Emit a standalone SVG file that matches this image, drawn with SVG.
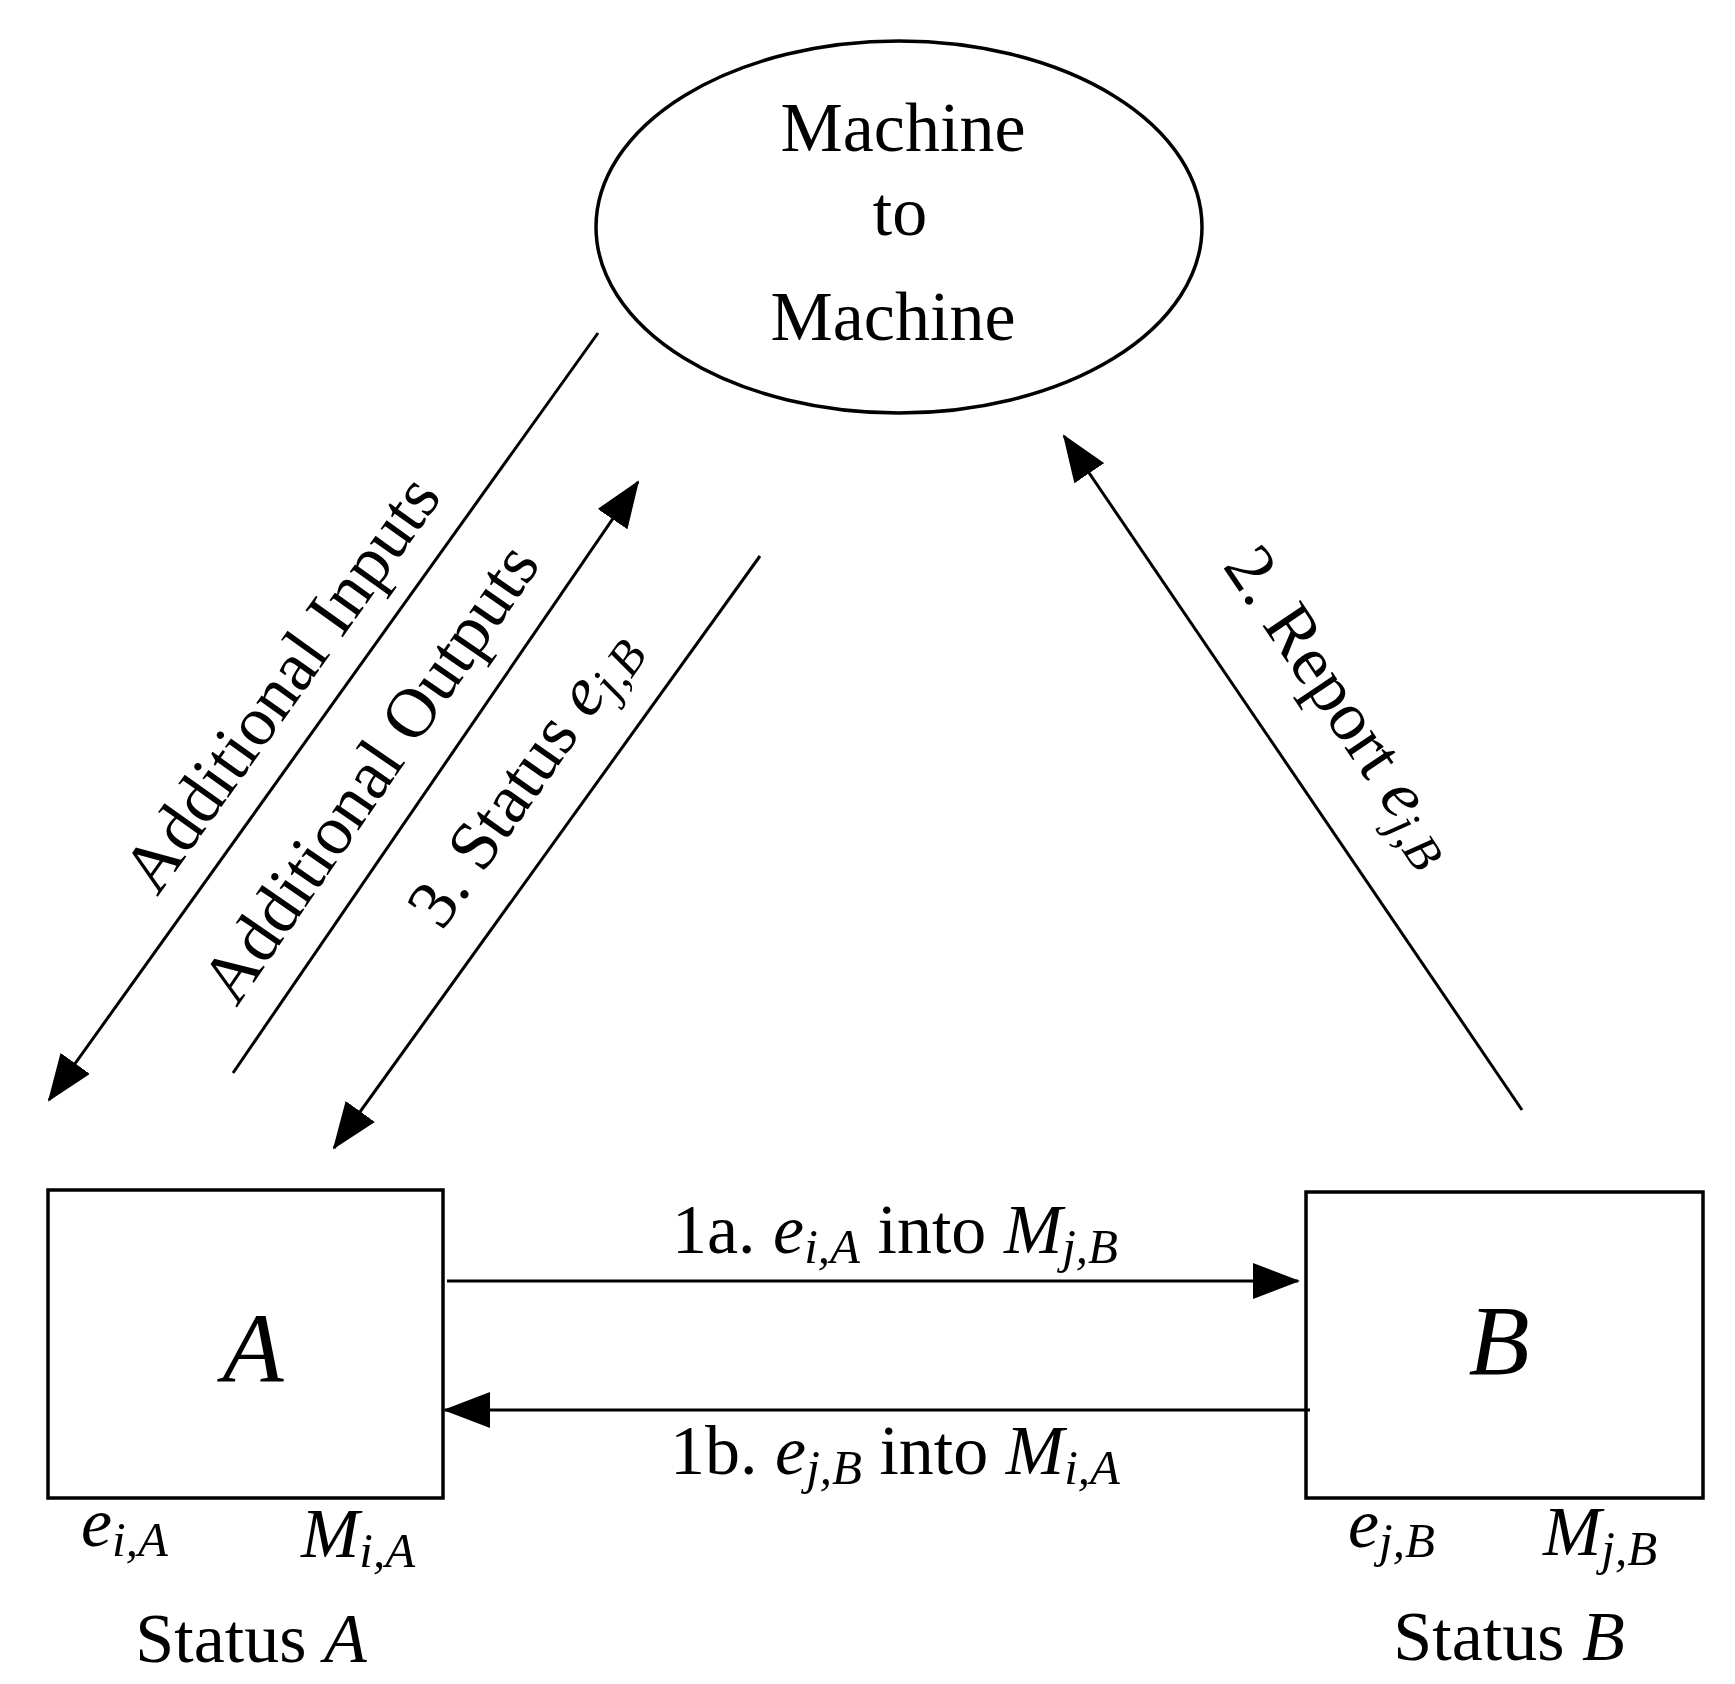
<svg xmlns="http://www.w3.org/2000/svg" width="1735" height="1684" viewBox="0 0 1735 1684">
<style>
text{font-family:"Liberation Serif","DejaVu Serif",serif;font-size:70px;fill:#000}
.i{font-style:italic}
.s{font-size:49px;font-style:italic}
.big{font-size:100px;font-style:italic}
.shape{fill:#fff;stroke:#000;stroke-width:3.5}
.conn{stroke:#000;stroke-width:3;fill:none;marker-end:url(#ah)}
</style>
<defs>
<marker id="ah" viewBox="0 0 47 36" refX="45" refY="18" markerWidth="47" markerHeight="36" markerUnits="userSpaceOnUse" orient="auto">
<path d="M0,0 L47,18 L0,36 z" fill="#000"/>
</marker>
</defs>
<rect width="1735" height="1684" fill="#fff"/>
<g id="m2m">
<ellipse class="shape" cx="899" cy="227" rx="303" ry="186"/>
<text x="903" y="151" text-anchor="middle">Machine</text>
<text x="900" y="235" text-anchor="middle">to</text>
<text x="893" y="340" text-anchor="middle">Machine</text>
</g>
<g id="nodeA">
<rect class="shape" x="48" y="1190" width="395" height="308"/>
<text class="big" x="253" y="1382" text-anchor="middle">A</text>
<text x="81" y="1546"><tspan class="i">e</tspan><tspan class="s" dy="10">i,A</tspan></text>
<text x="301" y="1557"><tspan class="i">M</tspan><tspan class="s" dy="10">i,A</tspan></text>
<text x="251" y="1662" text-anchor="middle">Status <tspan class="i">A</tspan></text>
</g>
<g id="nodeB">
<rect class="shape" x="1306" y="1192" width="397" height="306"/>
<text class="big" x="1499" y="1374" text-anchor="middle">B</text>
<text x="1348" y="1547"><tspan class="i">e</tspan><tspan class="s" dy="10">j,B</tspan></text>
<text x="1543" y="1555"><tspan class="i">M</tspan><tspan class="s" dy="10">j,B</tspan></text>
<text x="1509" y="1660" text-anchor="middle">Status <tspan class="i">B</tspan></text>
</g>
<g id="connectors">
<line class="conn" x1="598" y1="333" x2="49" y2="1100"/>
<line class="conn" x1="233" y1="1073" x2="638" y2="482"/>
<line class="conn" x1="760" y1="556" x2="334" y2="1148"/>
<line class="conn" x1="1522" y1="1110" x2="1064" y2="436"/>
<line class="conn" x1="447" y1="1281" x2="1298" y2="1281"/>
<line class="conn" x1="1310" y1="1410" x2="445" y2="1410"/>
<text transform="translate(300,697) rotate(-54.5)" text-anchor="middle">Additional Inputs</text>
<text transform="translate(389,786) rotate(-55.5)" text-anchor="middle">Additional Outputs</text>
<text transform="translate(442,932) rotate(-55)">3. Status <tspan class="i">e</tspan><tspan class="s" dy="10">j,B</tspan></text>
<text transform="translate(1222,566) rotate(56)">2. Report <tspan class="i">e</tspan><tspan class="s" dy="10">j,B</tspan></text>
<text x="895" y="1253" text-anchor="middle">1a. <tspan class="i">e</tspan><tspan class="s" dy="10">i,A</tspan><tspan dy="-10"> into </tspan><tspan class="i">M</tspan><tspan class="s" dy="10">j,B</tspan></text>
<text x="895" y="1474" text-anchor="middle">1b. <tspan class="i">e</tspan><tspan class="s" dy="10">j,B</tspan><tspan dy="-10"> into </tspan><tspan class="i">M</tspan><tspan class="s" dy="10">i,A</tspan></text>
</g>
</svg>
